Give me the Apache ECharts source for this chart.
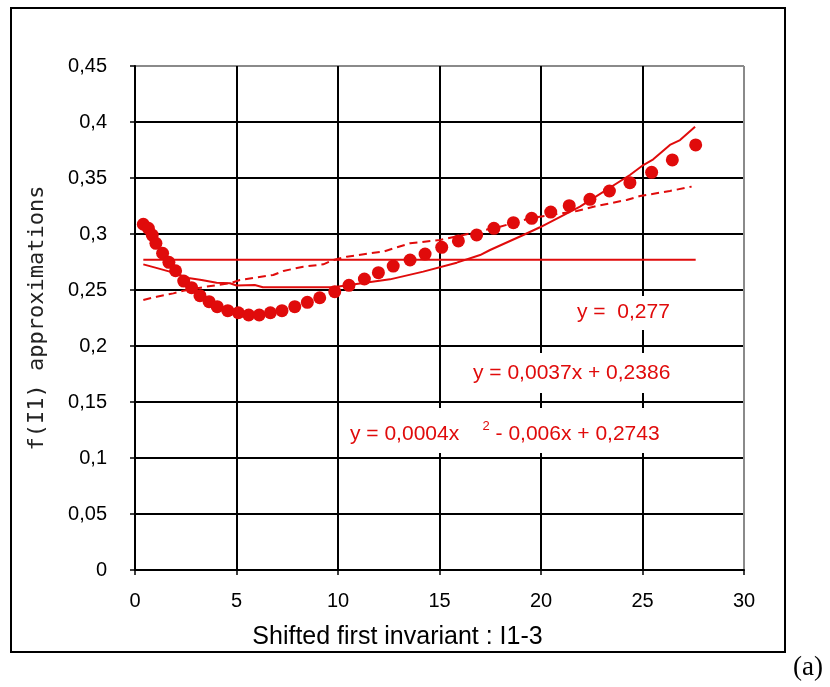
<!DOCTYPE html>
<html>
<head>
<meta charset="utf-8">
<script src="https://cdn.jsdelivr.net/npm/echarts@6/dist/echarts.min.js"></script>
<style>
  html, body {margin: 0; padding: 0; background: #fff;}
  #chart {width: 830px; height: 687px;}
</style>
</head>
<body>
<div id="chart"></div>
<script>
// measured points (x = I1-3)
const pointX = [0.41, 0.66, 0.85, 1.03, 1.36, 1.67, 2.0, 2.4, 2.79, 3.2, 3.65, 4.05, 4.57, 5.09, 5.6, 6.12, 6.67, 7.24, 7.87, 8.49, 9.1, 9.84, 10.54, 11.3, 11.99, 12.72, 13.55, 14.29, 15.11, 15.93, 16.83, 17.68, 18.64, 19.54, 20.48, 21.39, 22.41, 23.37, 24.38, 25.45, 26.47, 27.62];
const pointY = [0.3087, 0.3051, 0.299, 0.2917, 0.2828, 0.2747, 0.2672, 0.258, 0.2521, 0.2449, 0.2396, 0.2351, 0.2315, 0.2297, 0.2277, 0.2277, 0.2297, 0.2315, 0.2351, 0.239, 0.2431, 0.2485, 0.2542, 0.2598, 0.2655, 0.2714, 0.2768, 0.2821, 0.2881, 0.2938, 0.2991, 0.3051, 0.3101, 0.314, 0.3196, 0.3253, 0.331, 0.3384, 0.3458, 0.3551, 0.3661, 0.3795];

// solid approximation
const solidX = [0.41, 1.0, 1.89, 2.71, 3.28, 4.02, 4.68, 5.0, 5.9, 6.3, 9.77, 11.08, 12.56, 14.2, 15.85, 17.0, 17.49, 19.13, 19.95, 21.92, 24.38, 25.04, 25.53, 26.35, 26.85, 27.59];
const solidY = [0.2729, 0.270, 0.2655, 0.2604, 0.2589, 0.2565, 0.256, 0.254, 0.2545, 0.2524, 0.2524, 0.2558, 0.2595, 0.2664, 0.2744, 0.2812, 0.2857, 0.2991, 0.306, 0.3244, 0.3527, 0.3616, 0.3667, 0.3795, 0.3839, 0.3958];

// dashed approximation
const dashX = [0.41, 1.07, 1.89, 2.38, 3.53, 4.68, 5.17, 6.0, 6.81, 7.31, 8.29, 9.28, 9.77, 10.43, 11.58, 12.23, 12.89, 13.55, 15.02, 16.17, 16.83, 17.98, 19.46, 20.48, 21.76, 22.74, 24.22, 24.88, 26.35, 27.42];
const dashY = [0.2411, 0.244, 0.247, 0.2494, 0.253, 0.256, 0.2589, 0.2613, 0.2634, 0.267, 0.2708, 0.2729, 0.2768, 0.2797, 0.2828, 0.2842, 0.288, 0.2917, 0.2946, 0.2991, 0.3021, 0.3065, 0.314, 0.317, 0.3205, 0.325, 0.3304, 0.3339, 0.3384, 0.3423];

// constant approximation
const constX = [0.41, 27.62];
const constY = [0.277, 0.277];

const xTicks = [0, 5, 10, 15, 20, 25, 30];
const yTicks = [0, 0.05, 0.1, 0.15, 0.2, 0.25, 0.3, 0.35, 0.4, 0.45];

const eqConst = "y =  0,277";
const eqLinear = "y = 0,0037x + 0,2386";
const eqQuadA = "y = 0,0004x    ";
const eqQuadB = " - 0,006x + 0,2743";

const red = "#e00b0b";
const sans = "Liberation Sans, Arial, sans-serif";
const zip = (xs, ys) => xs.map((x, i) => [x, ys[i]]);

const chart = echarts.init(document.getElementById("chart"));

const ySplitColors = yTicks.map((v, i) => (i === yTicks.length - 1 ? "#8a8a8a" : "#000"));
const xSplitColors = xTicks.map((v, i) => (i === xTicks.length - 1 ? "#8a8a8a" : "#000"));

chart.setOption({
  animation: false,
  backgroundColor: "#fff",
  grid: {left: 135, right: 86, top: 66, bottom: 117, containLabel: false},
  xAxis: {
    type: "value",
    min: 0,
    max: 30,
    interval: 5,
    name: "Shifted first invariant : I1-3",
    nameLocation: "middle",
    nameGap: 55,
    // title is centred on the outer frame, not on the plot
    nameTextStyle: {fontFamily: sans, fontSize: 25, color: "#000", padding: [0, 84, 0, 0]},
    axisLine: {lineStyle: {color: "#000", width: 2}},
    axisTick: {show: true, length: 5, lineStyle: {color: "#000", width: 1.5}},
    axisLabel: {
      fontFamily: sans, fontSize: 20, color: "#000", margin: 21,
      formatter: (v) => String(v),
    },
    splitLine: {show: true, lineStyle: {color: xSplitColors, width: 2}},
  },
  yAxis: {
    type: "value",
    min: 0,
    max: 0.45,
    interval: 0.05,
    name: "f(I1) approximations",
    nameLocation: "middle",
    nameGap: 87,
    nameRotate: 90,
    nameTextStyle: {fontFamily: "DejaVu Sans Mono, monospace", fontSize: 22, color: "#222"},
    axisLine: {lineStyle: {color: "#000", width: 2}},
    axisTick: {show: true, length: 5, lineStyle: {color: "#000", width: 1.5}},
    axisLabel: {
      fontFamily: sans, fontSize: 20, color: "#000", margin: 28,
      formatter: (v) => String(+v.toFixed(2)).replace(".", ","),
    },
    splitLine: {show: true, lineStyle: {color: ySplitColors, width: 2}},
  },
  series: [
    {
      name: "constant",
      type: "line",
      data: zip(constX, constY),
      symbol: "none",
      lineStyle: {color: red, width: 2},
      z: 3,
    },
    {
      name: "linear",
      type: "line",
      data: zip(dashX, dashY),
      symbol: "none",
      lineStyle: {color: red, width: 2, type: [8, 5]},
      z: 3,
    },
    {
      name: "quadratic",
      type: "line",
      data: zip(solidX, solidY),
      symbol: "none",
      lineStyle: {color: red, width: 2},
      z: 3,
    },
    {
      name: "measured",
      type: "scatter",
      data: zip(pointX, pointY),
      symbol: "circle",
      symbolSize: 13,
      itemStyle: {color: red, opacity: 1},
      z: 4,
    },
  ],
  graphic: [
    {
      type: "rect",
      shape: {x: 11, y: 8, width: 774, height: 644},
      style: {fill: "none", stroke: "#000", lineWidth: 2},
      silent: true,
    },
    {
      type: "text",
      left: 793, top: 654,
      style: {text: "(a)", fontFamily: "Liberation Serif, Times New Roman, serif", fontSize: 27, fill: "#000"},
    },
    {
      type: "text",
      left: 573, top: 296, z: 10,
      style: {text: eqConst, fontFamily: sans, fontSize: 21, fill: red, backgroundColor: "#fff", padding: [6, 4, 7, 4]},
    },
    {
      type: "text",
      left: 467, top: 353, z: 10,
      style: {text: eqLinear, fontFamily: sans, fontSize: 21, fill: red, backgroundColor: "#fff", padding: [10, 6, 9, 6]},
    },
    {
      type: "text",
      left: 344, top: 408, z: 10,
      style: {
        text: "{a|" + eqQuadA + "}{s|2}{a|" + eqQuadB + "}",
        backgroundColor: "#fff",
        padding: [4, 6, 4, 6],
        rich: {
          a: {fontFamily: sans, fontSize: 21, fill: red, lineHeight: 37, verticalAlign: "bottom", padding: [0, 0, 4, 0]},
          s: {fontFamily: sans, fontSize: 13, fill: red, lineHeight: 37, verticalAlign: "top", padding: [8, 0, 0, 0]},
        },
      },
    },
  ],
});
</script>
</body>
</html>
